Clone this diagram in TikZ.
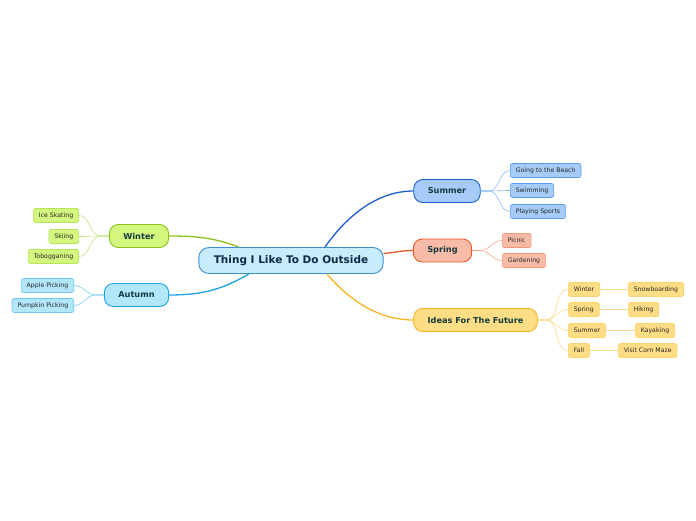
\documentclass[tikz,border=0pt]{standalone}
\usepackage{fontspec}
\setmainfont{DejaVu Sans}
\usetikzlibrary{calc}
\definecolor{cfill}{HTML}{C6ECFD}\definecolor{cdraw}{HTML}{3B8FD0}\definecolor{ctext}{HTML}{0D2A4A}
\definecolor{mtext}{HTML}{143C3C}\definecolor{ltext}{HTML}{262626}
\definecolor{sufill}{HTML}{A6CBF8}\definecolor{sudraw}{HTML}{1D5FD0}\definecolor{suleaf}{HTML}{5C9CF0}\definecolor{suedge}{HTML}{8DB8F2}
\definecolor{spfill}{HTML}{F8BBA8}\definecolor{spdraw}{HTML}{E85A26}\definecolor{spleaf}{HTML}{F5987A}\definecolor{spedge}{HTML}{F6A88E}
\definecolor{fufill}{HTML}{FEDD85}\definecolor{fudraw}{HTML}{F7B525}\definecolor{fuleaf}{HTML}{FBD36C}\definecolor{fuedge}{HTML}{FCDC8C}
\definecolor{wifill}{HTML}{D4F77F}\definecolor{widraw}{HTML}{8FBF1C}\definecolor{wileaf}{HTML}{B8E35A}\definecolor{wiedge}{HTML}{C4E27E}
\definecolor{aufill}{HTML}{B2E6FB}\definecolor{audraw}{HTML}{1EA3E3}\definecolor{auleaf}{HTML}{72C9F2}\definecolor{auedge}{HTML}{7CCCF2}
\begin{document}
\begin{tikzpicture}[x=1pt,y=-1pt,
  centre/.style={draw=cdraw,fill=cfill,text=ctext,line width=0.9pt,rounded corners=10pt,
    font=\fontsize{10.5}{12}\selectfont\bfseries,inner xsep=15pt,inner ysep=0pt,minimum height=26pt},
  mainb/.style={line width=0.9pt,rounded corners=9pt,text=mtext,
    font=\fontsize{8.2}{10}\selectfont\bfseries,inner xsep=14pt,inner ysep=0pt,minimum height=23pt},
  leaf/.style={line width=0.6pt,rounded corners=2pt,text=ltext,
    font=\fontsize{6.2}{8}\selectfont,inner xsep=5.5pt,inner ysep=0pt,minimum height=14pt},
  branch/.style={line width=1.3pt},
  twig/.style={line width=0.6pt}]
\useasboundingbox[fill=white] (0,0) rectangle (696,520);
% nodes
\node[centre] (C) at (291,260.5) {Thing I Like To Do Outside};
\node[mainb,draw=sudraw,fill=sufill] (Su) at (447,191) {Summer};
\node[mainb,draw=spdraw,fill=spfill] (Sp) at (442.5,250.5) {Spring};
\node[mainb,draw=fudraw,fill=fufill] (Fu) at (475.5,320) {Ideas For The Future};
\node[mainb,draw=widraw,fill=wifill] (Wi) at (139,236) {Winter};
\node[mainb,draw=audraw,fill=aufill] (Au) at (136.5,295) {Autumn};
% summer leaves
\node[leaf,draw=suleaf,fill=sufill,anchor=west] (su1) at (510,170.5) {Going to the Beach};
\node[leaf,draw=suleaf,fill=sufill,anchor=west] (su2) at (510,190.5) {Swimming};
\node[leaf,draw=suleaf,fill=sufill,anchor=west] (su3) at (510,211.5) {Playing Sports};
% spring leaves
\node[leaf,draw=spleaf,fill=spfill,anchor=west] (sp1) at (502,240.5) {Picnic};
\node[leaf,draw=spleaf,fill=spfill,anchor=west] (sp2) at (502,260.5) {Gardening};
% future leaves
\node[leaf,draw=fuleaf,fill=fufill,anchor=west] (fu1) at (568,289.5) {Winter};
\node[leaf,draw=fuleaf,fill=fufill,anchor=west] (fu2) at (568,309.5) {Spring};
\node[leaf,draw=fuleaf,fill=fufill,anchor=west] (fu3) at (568,330.5) {Summer};
\node[leaf,draw=fuleaf,fill=fufill,anchor=west] (fu4) at (568,350.5) {Fall};
\node[leaf,draw=fuleaf,fill=fufill,anchor=west] (fv1) at (628,289.5) {Snowboarding};
\node[leaf,draw=fuleaf,fill=fufill,anchor=west] (fv2) at (628,309.5) {Hiking};
\node[leaf,draw=fuleaf,fill=fufill,anchor=west] (fv3) at (635,330.5) {Kayaking};
\node[leaf,draw=fuleaf,fill=fufill,anchor=west] (fv4) at (618,350.5) {Visit Corn Maze};
% winter leaves
\node[leaf,draw=wileaf,fill=wifill,anchor=east] (wi1) at (79,215.5) {Ice Skating};
\node[leaf,draw=wileaf,fill=wifill,anchor=east] (wi2) at (79,236.5) {Skiing};
\node[leaf,draw=wileaf,fill=wifill,anchor=east] (wi3) at (79,256.5) {Tobogganing};
% autumn leaves
\node[leaf,draw=auleaf,fill=aufill,anchor=east] (au1) at (74,285.5) {Apple Picking};
\node[leaf,draw=auleaf,fill=aufill,anchor=east] (au2) at (74,305.5) {Pumpkin Picking};
% branches from centre
\draw[branch,sudraw] ($(C.north)+(34,0)$) to[out=55,in=180,looseness=0.9] (Su.west);
\draw[branch,spdraw] ($(C.east)+(0,-7)$) to[out=5,in=180] (Sp.west);
\draw[branch,fudraw] ($(C.south)+(36,0)$) to[out=-50,in=180,looseness=0.9] (Fu.west);
\draw[branch,widraw] (Wi.east) to[out=0,in=160] ($(C.north)+(-52,0)$);
\draw[branch,audraw] (Au.east) to[out=0,in=-150] ($(C.south)+(-42,0)$);
% twigs
\foreach \l in {su1,su2,su3}{
  \draw[twig,suedge] (Su.east) -- ++(8,0) to[out=0,in=180] (\l.west);}
\foreach \l in {sp1,sp2}{
  \draw[twig,spedge] (Sp.east) -- ++(8,0) to[out=0,in=180] (\l.west);}
\foreach \l in {fu1,fu2,fu3,fu4}{
  \draw[twig,fuedge] (Fu.east) -- ++(8,0) to[out=0,in=180] (\l.west);}
\foreach \a/\b in {fu1/fv1,fu2/fv2,fu3/fv3,fu4/fv4}{
  \draw[twig,fuedge] (\a.east) -- (\b.west);}
\foreach \l in {wi1,wi2,wi3}{
  \draw[twig,wiedge] (Wi.west) -- ++(-8,0) to[out=180,in=0] (\l.east);}
\foreach \l in {au1,au2}{
  \draw[twig,auedge] (Au.west) -- ++(-8,0) to[out=180,in=0] (\l.east);}
\end{tikzpicture}
\end{document}
